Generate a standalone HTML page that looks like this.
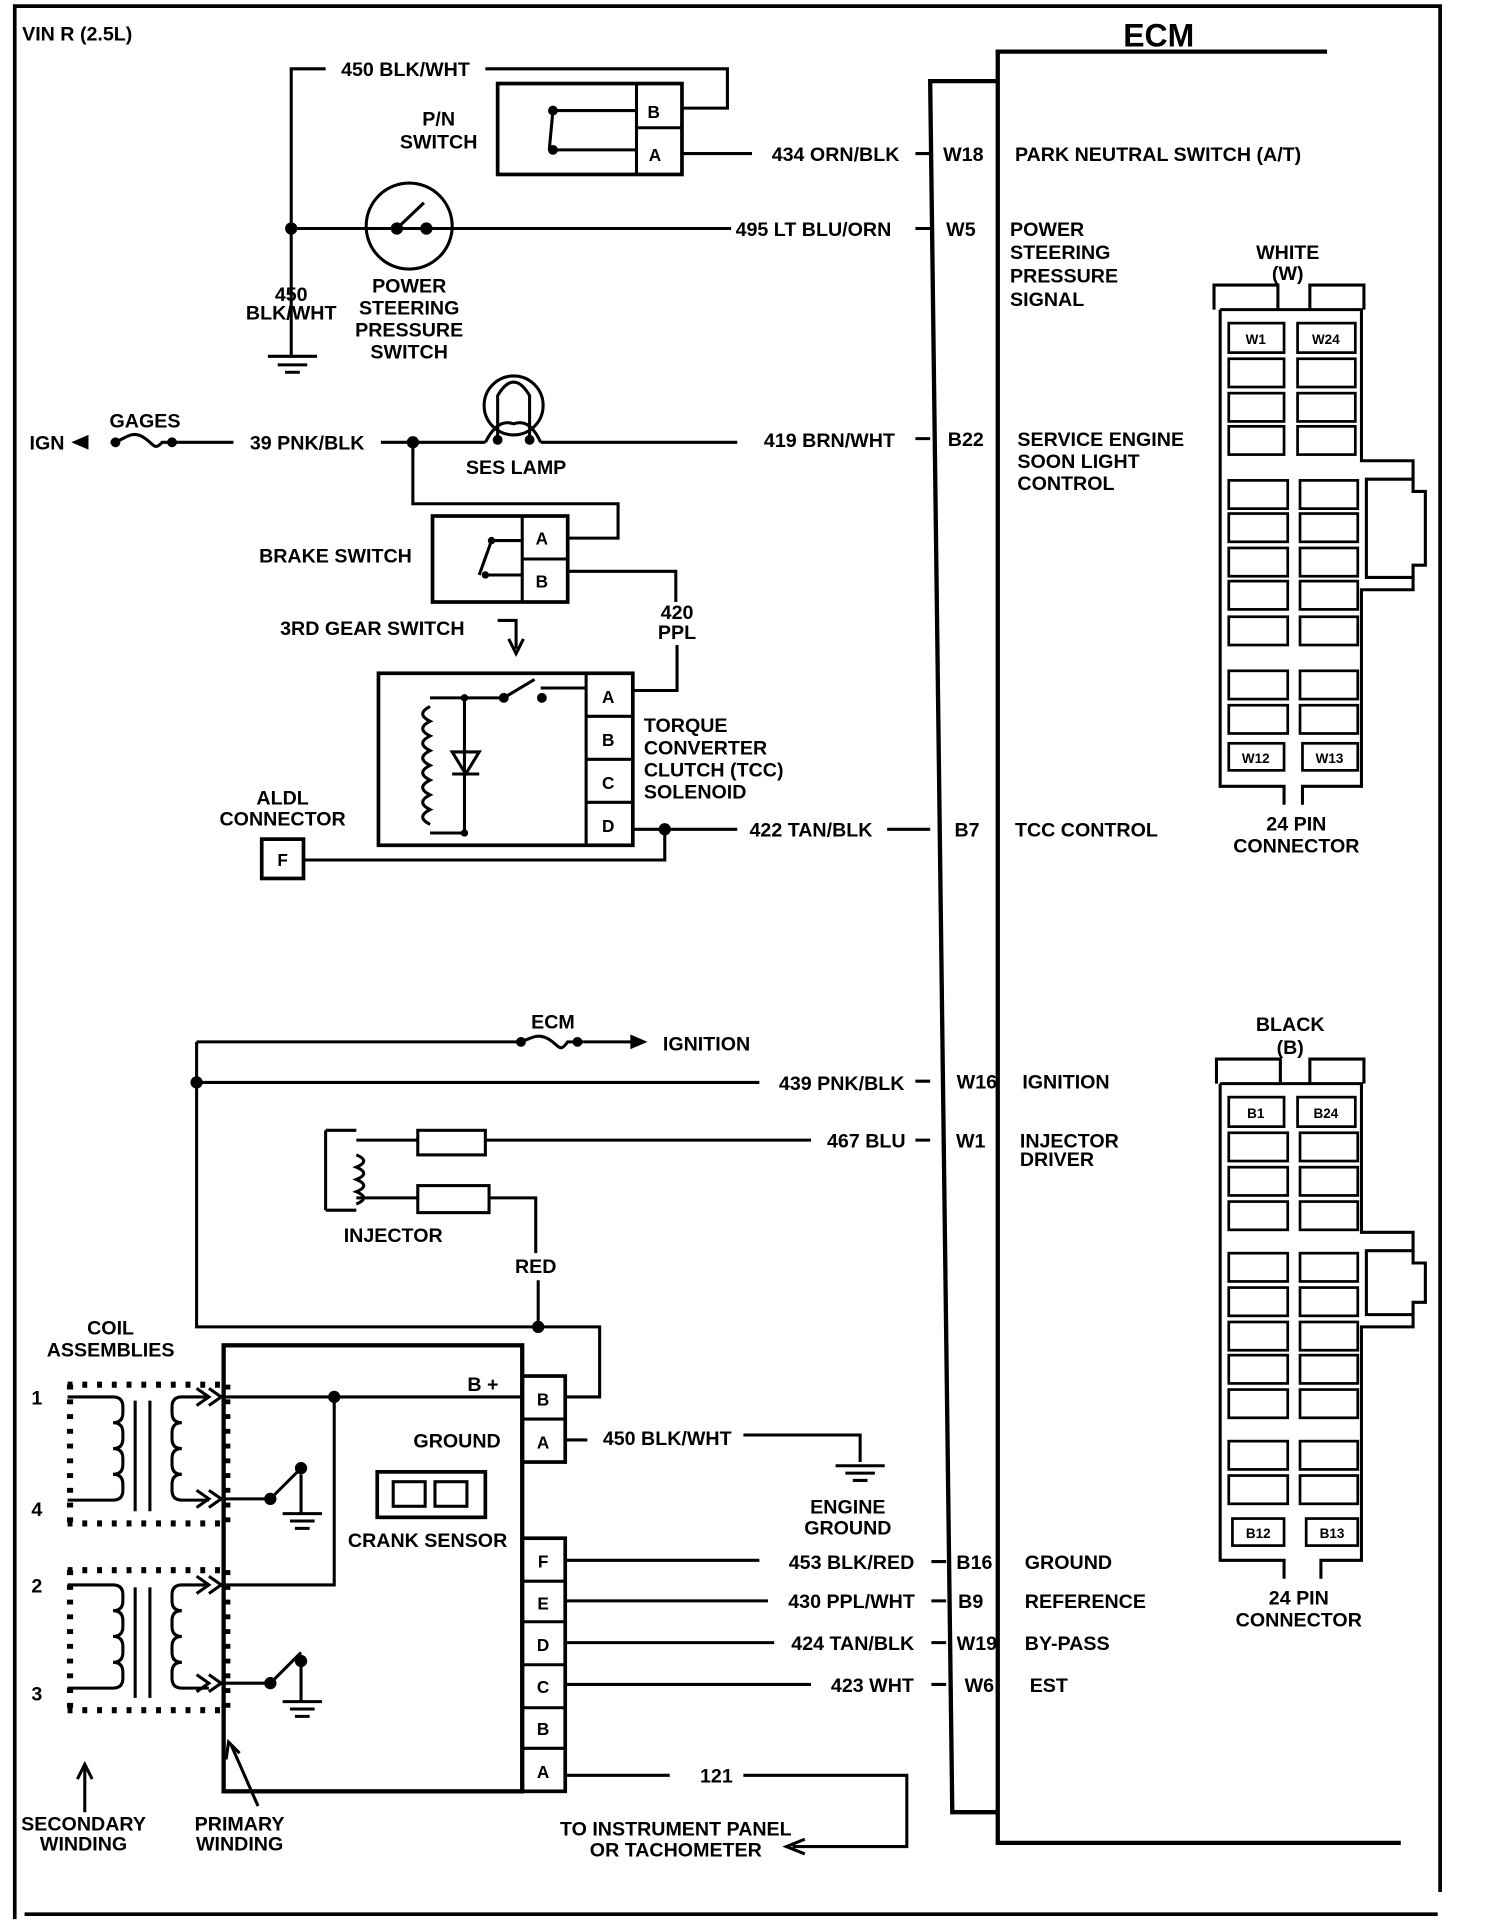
<!DOCTYPE html>
<html><head><meta charset="utf-8"><style>
html,body{margin:0;padding:0;background:#fff}
svg{display:block}
text{font-family:"Liberation Sans Narrow","Liberation Sans",sans-serif;font-weight:bold;fill:#000}
.s{font-size:14px}.xs{font-size:11px}
</style></head><body>
<svg width="1504" height="1924" viewBox="0 0 1224 1566" preserveAspectRatio="none" xmlns="http://www.w3.org/2000/svg" font-size="16">
<g fill="none" stroke="#000" stroke-width="2.5">
<path d="M12 1562 V5 H1172 V1540" stroke-width="3"/>
<path d="M20 1558 H1170" stroke-width="3"/>
<path d="M1080 42 H812 V1500 H1140" stroke-width="3.5"/>
<path d="M812 66 H757 L775 1475 H812" stroke-width="3.5"/>
<path d="M745 125H757M745 186H757M745 357H757M722 675H757M745 880H757M745 928H757M758 1271H770M758 1303H770M758 1337H770M758 1371H770"/>
<path d="M265 56H237V290M395 56H592V88H555"/>
<path d="M218 290H258M226 297H250M232 303H244"/>
<rect x="405" y="68" width="150" height="74" stroke-width="3"/>
<path d="M518 68V142M518 104H555M450 90H518M450 122H518M450 90L447 122"/>
<path d="M555 125H612"/>
<circle cx="333" cy="184" r="35"/>
<path d="M237 186H595M323 186L345 165"/>
<path d="M62 360H72M145 360H190M310 360H395M440 360H600"/>
<path d="M90 360 C100 360,105 350,115 355 S125 368,132 360 L145 360"/>
<circle cx="418" cy="330" r="24"/>
<path d="M405 358V322 Q418 300 431 322 V358M395 360 Q405 340 418 345 Q431 340 440 360"/>
<path d="M336 360V410H503V438H462"/>
<rect x="352" y="420" width="110" height="70" stroke-width="3"/>
<path d="M425 420V490M425 455H462M400 440H425M395 468H425M400 440L390 468"/>
<path d="M462 465H550V490M551 525V562H515"/>
<path d="M405 505H420V528"/>
<path d="M414 520L420 532L426 520"/>
<rect x="308" y="548" width="207" height="140" stroke-width="3"/>
<path d="M477 548V688M477 583H515M477 618H515M477 653H515"/>
<path d="M350 568H378V678H350M378 568H410M440 560H477M410 568L435 553"/>
<path d="M350 575 q-12 6 0 12 q-12 6 0 12 q-12 6 0 12 q-12 6 0 12 q-12 6 0 12 q-12 6 0 12 q-12 6 0 12 q-12 6 0 12"/>
<path d="M368 630H390M368 612H390L379 630Z"/>
<path d="M515 675H600M541 675V700H247"/>
<rect x="213" y="683" width="34" height="32" stroke-width="3"/>
<path d="M160 848H420M475 848H520M160 848V1080H488V1137H460M160 881H618"/>
<path d="M420 848 C430 848,435 840,445 845 S455 858,462 848 L475 848"/>
<path d="M265 920V985M265 920H290M265 985H290M290 940 q12 5 0 10 q12 5 0 10 q12 5 0 10 q12 5 0 10 M290 928H340M290 975H340"/>
<rect x="340" y="920" width="55" height="20"/>
<rect x="340" y="965" width="58" height="22"/>
<path d="M395 928H660M398 975H436V1020M438 1042V1080"/>
<rect x="182" y="1095" width="243" height="363" stroke-width="3.5"/>
<rect x="425" y="1120" width="35" height="70" stroke-width="3"/>
<path d="M425 1155H460"/>
<rect x="425" y="1252" width="35" height="206" stroke-width="3"/>
<path d="M425 1287H460M425 1320H460M425 1355H460M425 1390H460M425 1423H460"/>
<path d="M182 1137H425M272 1137V1290H182"/>
<path d="M460 1172H478M605 1168H700V1190M680 1193H720M688 1199H712M694 1205H706"/>
<rect x="307" y="1198" width="88" height="37" stroke-width="3"/>
<rect x="320" y="1206" width="26" height="20"/><rect x="354" y="1206" width="26" height="20"/>
<path d="M182 1220H220L245 1195M245 1200V1232M230 1232H262M236 1238H256M240 1244H252"/>
<path d="M182 1370H220L245 1345M245 1355V1385M230 1385H262M236 1391H256M240 1397H252"/>
<path d="M460 1270H618M460 1303H625M460 1337H630M460 1371H660M460 1445H545M605 1445H738V1503H645"/>
<path d="M655 1497L640 1503L655 1509"/>
<g stroke-dasharray="4 8" stroke-width="5">
<path d="M55 1127H185M55 1240H185M57 1127V1240M185 1127V1240M55 1278H185M55 1392H185M57 1278V1392M185 1278V1392"/>
</g>
<path d="M55 1137H92 q8 0 8 8 v5 q0 8 -8 8 q8 0 8 8 v5 q0 8 -8 8 q8 0 8 8 v5 q0 8 -8 8 q8 0 8 8 v5 q0 8 -8 8 H55"/>
<path d="M110 1140V1230M122 1140V1230M170 1137H148 q-8 0 -8 8 v5 q0 8 8 8 q-8 0 -8 8 v5 q0 8 8 8 q-8 0 -8 8 v5 q0 8 8 8 q-8 0 -8 8 v5 q0 8 8 8 H170"/>
<path d="M55 1290H92 q8 0 8 8 v5 q0 8 -8 8 q8 0 8 8 v5 q0 8 -8 8 q8 0 8 8 v5 q0 8 -8 8 q8 0 8 8 v5 q0 8 -8 8 H55"/>
<path d="M110 1292V1382M122 1292V1382M170 1290H148 q-8 0 -8 8 v5 q0 8 8 8 q-8 0 -8 8 v5 q0 8 8 8 q-8 0 -8 8 v5 q0 8 8 8 q-8 0 -8 8 v5 q0 8 8 8 H170"/>
<path d="M160 1130L170 1137L160 1144M170 1130L180 1137L170 1144M160 1213L170 1220L160 1227M170 1213L180 1220L170 1227M160 1283L170 1290L160 1297M170 1283L180 1290L170 1297M160 1363L170 1370L160 1377M170 1363L180 1370L170 1377"/>
<path d="M69 1475V1438M63 1448L69 1436L75 1448M210 1470L188 1420M184 1432L186 1418L195 1427"/>
<path d="M988 252V232H1040V252M1066 252V232H1110V252"/>
<path d="M993 252H1108V375H1150V390H1112V470H1150V480H1108V640H1060V655M993 252V640H1045V655"/>
<path d="M1150 390V400H1160V460H1150V470"/>
<path d="M990 882V862H1042V882M1066 882V862H1110V882"/>
<path d="M993 882H1108V1003H1150V1018H1112V1070H1150V1080H1108V1270H1075V1285M993 882V1270H1045V1285"/>
<path d="M1150 1018V1028H1160V1060H1150V1070"/>
</g>
<g fill="none" stroke="#000" stroke-width="2.2">
<rect x="1000" y="263" width="45" height="24"/><rect x="1056" y="263" width="47" height="24"/>
<rect x="1000" y="292" width="45" height="23"/><rect x="1056" y="292" width="47" height="23"/>
<rect x="1000" y="320" width="45" height="23"/><rect x="1056" y="320" width="47" height="23"/>
<rect x="1000" y="347" width="45" height="23"/><rect x="1056" y="347" width="47" height="23"/>
<rect x="1000" y="391" width="48" height="23"/><rect x="1058" y="391" width="47" height="23"/>
<rect x="1000" y="418" width="48" height="23"/><rect x="1058" y="418" width="47" height="23"/>
<rect x="1000" y="446" width="48" height="23"/><rect x="1058" y="446" width="47" height="23"/>
<rect x="1000" y="473" width="48" height="23"/><rect x="1058" y="473" width="47" height="23"/>
<rect x="1000" y="502" width="48" height="23"/><rect x="1058" y="502" width="47" height="23"/>
<rect x="1000" y="546" width="48" height="23"/><rect x="1058" y="546" width="47" height="23"/>
<rect x="1000" y="574" width="48" height="23"/><rect x="1058" y="574" width="47" height="23"/>
<rect x="1000" y="605" width="45" height="22"/><rect x="1060" y="605" width="45" height="22"/>
<rect x="1000" y="893" width="45" height="24"/><rect x="1056" y="893" width="47" height="24"/>
<rect x="1000" y="922" width="48" height="23"/><rect x="1058" y="922" width="47" height="23"/>
<rect x="1000" y="950" width="48" height="23"/><rect x="1058" y="950" width="47" height="23"/>
<rect x="1000" y="978" width="48" height="23"/><rect x="1058" y="978" width="47" height="23"/>
<rect x="1000" y="1020" width="48" height="23"/><rect x="1058" y="1020" width="47" height="23"/>
<rect x="1000" y="1048" width="48" height="23"/><rect x="1058" y="1048" width="47" height="23"/>
<rect x="1000" y="1076" width="48" height="23"/><rect x="1058" y="1076" width="47" height="23"/>
<rect x="1000" y="1103" width="48" height="23"/><rect x="1058" y="1103" width="47" height="23"/>
<rect x="1000" y="1131" width="48" height="23"/><rect x="1058" y="1131" width="47" height="23"/>
<rect x="1000" y="1173" width="48" height="23"/><rect x="1058" y="1173" width="47" height="23"/>
<rect x="1000" y="1201" width="48" height="23"/><rect x="1058" y="1201" width="47" height="23"/>
<rect x="1003" y="1236" width="42" height="22"/><rect x="1063" y="1236" width="42" height="22"/>
</g>
<g fill="#000">
<circle cx="237" cy="186" r="5"/><circle cx="323" cy="186" r="5"/><circle cx="347" cy="186" r="5"/>
<circle cx="450" cy="90" r="4"/><circle cx="450" cy="122" r="4"/>
<circle cx="336" cy="360" r="5"/><circle cx="94" cy="360" r="4"/><circle cx="140" cy="360" r="4"/>
<circle cx="405" cy="358" r="4"/><circle cx="431" cy="358" r="4"/>
<circle cx="400" cy="440" r="3"/><circle cx="395" cy="468" r="3"/>
<circle cx="378" cy="568" r="3"/><circle cx="410" cy="568" r="4"/><circle cx="441" cy="568" r="4"/><circle cx="378" cy="678" r="3"/>
<circle cx="541" cy="675" r="5"/>
<path d="M58 360L72 354V366Z"/><path d="M527 848L513 842V854Z"/>
<circle cx="424" cy="848" r="4"/><circle cx="470" cy="848" r="4"/>
<circle cx="160" cy="881" r="5"/><circle cx="438" cy="1080" r="5"/><circle cx="272" cy="1137" r="5"/>
<circle cx="220" cy="1220" r="5"/><circle cx="245" cy="1195" r="5"/>
<circle cx="220" cy="1370" r="5"/><circle cx="245" cy="1352" r="5"/>
</g>
<text x="18" y="33">VIN R (2.5L)</text>
<text x="943" y="38" text-anchor="middle" style="font-family:'Liberation Sans',sans-serif;font-size:26px">ECM</text>
<g text-anchor="middle">
<text x="330" y="62">450 BLK/WHT</text>
<text x="357" y="102">P/N</text><text x="357" y="121">SWITCH</text>
<text x="680" y="131">434 ORN/BLK</text>
<text x="662" y="192">495 LT BLU/ORN</text>
<text x="237" y="245">450</text><text x="237" y="260">BLK/WHT</text>
<text x="333" y="238">POWER</text><text x="333" y="256">STEERING</text><text x="333" y="274">PRESSURE</text><text x="333" y="292">SWITCH</text>
<text x="118" y="348">GAGES</text>
<text x="250" y="366">39 PNK/BLK</text>
<text x="675" y="364">419 BRN/WHT</text>
<text x="420" y="386">SES LAMP</text>
<text x="273" y="458">BRAKE SWITCH</text>
<text x="441" y="443" class="s">A</text><text x="441" y="478" class="s">B</text>
<text x="532" y="96" class="s">B</text><text x="533" y="131" class="s">A</text>
<text x="551" y="504">420</text><text x="551" y="520">PPL</text>
<text x="303" y="517">3RD GEAR SWITCH</text>
<text x="495" y="572" class="s">A</text><text x="495" y="607" class="s">B</text><text x="495" y="642" class="s">C</text><text x="495" y="677" class="s">D</text>
<text x="660" y="681">422 TAN/BLK</text>
<text x="230" y="655">ALDL</text><text x="230" y="672">CONNECTOR</text>
<text x="230" y="705" class="s">F</text>
<text x="450" y="837">ECM</text>
<text x="575" y="855">IGNITION</text>
<text x="685" y="887">439 PNK/BLK</text>
<text x="705" y="934">467 BLU</text>
<text x="320" y="1011">INJECTOR</text>
<text x="436" y="1036">RED</text>
<text x="90" y="1086">COIL</text><text x="90" y="1104">ASSEMBLIES</text>
<text x="393" y="1132">B +</text>
<text x="372" y="1178">GROUND</text>
<text x="543" y="1176">450 BLK/WHT</text>
<text x="690" y="1232">ENGINE</text><text x="690" y="1249">GROUND</text>
<text x="348" y="1259">CRANK SENSOR</text>
<text x="442" y="1144" class="s">B</text><text x="442" y="1179" class="s">A</text>
<text x="442" y="1276" class="s">F</text><text x="442" y="1310" class="s">E</text><text x="442" y="1344" class="s">D</text><text x="442" y="1378" class="s">C</text><text x="442" y="1412" class="s">B</text><text x="442" y="1447" class="s">A</text>
<text x="693" y="1277">453 BLK/RED</text>
<text x="693" y="1309">430 PPL/WHT</text>
<text x="694" y="1343">424 TAN/BLK</text>
<text x="710" y="1377">423 WHT</text>
<text x="583" y="1451">121</text>
<text x="550" y="1494">TO INSTRUMENT PANEL</text><text x="550" y="1511">OR TACHOMETER</text>
<text x="68" y="1490">SECONDARY</text><text x="68" y="1506">WINDING</text>
<text x="195" y="1490">PRIMARY</text><text x="195" y="1506">WINDING</text>
<text x="30" y="1143">1</text><text x="30" y="1234">4</text><text x="30" y="1296">2</text><text x="30" y="1384">3</text>
<text x="784" y="131">W18</text><text x="782" y="192">W5</text><text x="786" y="363">B22</text><text x="787" y="681">B7</text>
<text x="795" y="886">W16</text><text x="790" y="934">W1</text>
<text x="793" y="1277">B16</text><text x="790" y="1309">B9</text><text x="795" y="1343">W19</text><text x="797" y="1377">W6</text>
<text x="1048" y="211">WHITE</text><text x="1048" y="228">(W)</text>
<text x="1055" y="676">24 PIN</text><text x="1055" y="694">CONNECTOR</text>
<text x="1050" y="839">BLACK</text><text x="1050" y="858">(B)</text>
<text x="1057" y="1306">24 PIN</text><text x="1057" y="1324">CONNECTOR</text>
<text x="1022" y="280" class="xs">W1</text><text x="1079" y="280" class="xs">W24</text>
<text x="1022" y="621" class="xs">W12</text><text x="1082" y="621" class="xs">W13</text>
<text x="1022" y="910" class="xs">B1</text><text x="1079" y="910" class="xs">B24</text>
<text x="1024" y="1252" class="xs">B12</text><text x="1084" y="1252" class="xs">B13</text>
</g>
<text x="826" y="131">PARK NEUTRAL SWITCH (A/T)</text>
<text x="822" y="192">POWER</text><text x="822" y="211">STEERING</text><text x="822" y="230">PRESSURE</text><text x="822" y="249">SIGNAL</text>
<text x="828" y="363">SERVICE ENGINE</text><text x="828" y="381">SOON LIGHT</text><text x="828" y="399">CONTROL</text>
<text x="524" y="596">TORQUE</text><text x="524" y="614">CONVERTER</text><text x="524" y="632">CLUTCH (TCC)</text><text x="524" y="650">SOLENOID</text>
<text x="826" y="681">TCC CONTROL</text>
<text x="832" y="886">IGNITION</text>
<text x="830" y="934">INJECTOR</text><text x="830" y="949">DRIVER</text>
<text x="834" y="1277">GROUND</text><text x="834" y="1309">REFERENCE</text><text x="834" y="1343">BY-PASS</text><text x="838" y="1377">EST</text>
<text x="24" y="366">IGN</text>
</svg>
</body></html>
